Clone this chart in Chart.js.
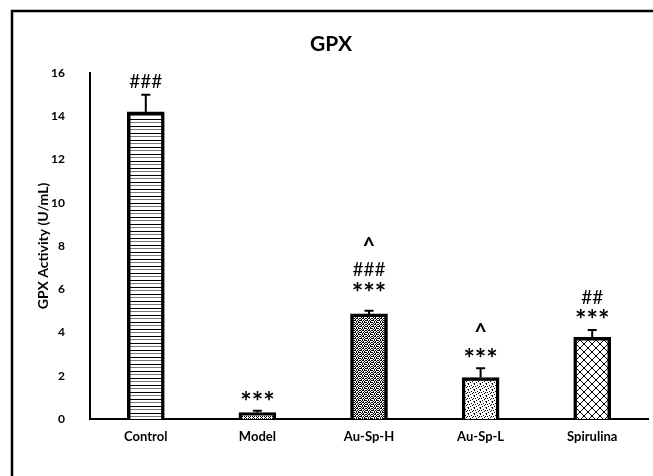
<!DOCTYPE html>
<html>
<head>
<meta charset="utf-8">
<script src="https://cdn.jsdelivr.net/npm/chart.js@4/dist/chart.umd.min.js"></script>
<style>
  html, body { margin: 0; padding: 0; background: #fff; }
  canvas { display: block; }
</style>
</head>
<body>
<canvas id="c" width="653" height="476"></canvas>
<script>
const categories = ['Control', 'Model', 'Au-Sp-H', 'Au-Sp-L', 'Spirulina']
const gpxValues = [14.2, 0.3, 4.86, 1.91, 3.78]
const gpxErrors = [0.8, 0.08, 0.15, 0.44, 0.34]
const yTicks = [0, 2, 4, 6, 8, 10, 12, 14, 16]
// significance marks: [category index, text, y value where the text sits]
const marks = [
  [0, '###', 15.61],
  [1, '***', 1.06],
  [2, '^', 8.09],
  [2, '###', 6.89],
  [2, '***', 6.1],
  [3, '^', 4.12],
  [3, '***', 3.05],
  [4, '##', 5.6],
  [4, '***', 4.86]
]

const FONT = 'Lato, "Noto Sans", sans-serif'

function pixelPattern(rows, color) {
  const h = rows.length, w = rows[0].length
  const c = document.createElement('canvas')
  c.width = w
  c.height = h
  const g = c.getContext('2d')
  g.fillStyle = '#fff'
  g.fillRect(0, 0, w, h)
  rows.forEach((r, y) => {
    for (let x = 0; x < w; x++) {
      const ch = r[x]
      if (ch === '.') continue
      g.fillStyle = ch === 'X' ? color : '#777'
      g.fillRect(x, y, 1, 1)
    }
  })
  return g.createPattern(c, 'repeat')
}

const patterns = [
  pixelPattern(['XXXX', '....', '....', 'oooo', '....', '....', '....'], '#000'),
  pixelPattern(['X.X.', '.X..', 'X.X.', '....'], '#000'),
  pixelPattern(['X.XX.X', '.X..X.', 'XX.X.X', '..X.X.', 'X.X.XX', '.X.X..'], '#000'),
  pixelPattern(['X.....', '...X..', '.X...X', '....X.', '..X...', 'X....o'], '#000'),
  pixelPattern([
    'X......X',
    '.X....X.',
    '..X..X..',
    '...XX...',
    '...XX...',
    '..X..X..',
    '.X....X.',
    'X......X'
  ], '#000')
]

const decor = {
  id: 'decor',
  afterDatasetsDraw(chart) {
    const ctx = chart.ctx
    const y = chart.scales.y
    const meta = chart.getDatasetMeta(0)
    ctx.save()
    ctx.strokeStyle = '#000'
    ctx.lineWidth = 2
    meta.data.forEach((bar, i) => {
      const yb = y.getPixelForValue(gpxValues[i])
      const yt = y.getPixelForValue(gpxValues[i] + gpxErrors[i])
      ctx.beginPath()
      ctx.moveTo(bar.x, yb)
      ctx.lineTo(bar.x, yt)
      ctx.moveTo(bar.x - 4.5, yt)
      ctx.lineTo(bar.x + 4.5, yt)
      ctx.stroke()
    })
    ctx.fillStyle = '#000'
    ctx.textAlign = 'center'
    ctx.textBaseline = 'middle'
    marks.forEach(([i, text, v]) => {
      const bar = meta.data[i]
      let dy = 0
      if (text === '***') { ctx.font = 'bold 27px ' + FONT; dy = 6 }
      else if (text === '^') { ctx.font = 'bold 22px ' + FONT; dy = 3 }
      else ctx.font = '19px ' + FONT
      ctx.fillText(text, bar.x, y.getPixelForValue(v) + dy)
    })
    ctx.restore()
  },
  afterDraw(chart) {
    const ctx = chart.ctx
    ctx.save()
    ctx.strokeStyle = '#000'
    ctx.lineWidth = 2.5
    ctx.strokeRect(12, 11, 700, 500)
    ctx.fillStyle = '#000'
    ctx.font = 'bold 21px ' + FONT
    ctx.textAlign = 'center'
    ctx.textBaseline = 'middle'
    ctx.fillText('GPX', 331, 44)
    ctx.restore()
  }
}

new Chart(document.getElementById('c'), {
  type: 'bar',
  data: {
    labels: categories,
    datasets: [{
      data: gpxValues,
      backgroundColor: patterns,
      borderColor: '#000',
      borderWidth: 3.5,
      borderSkipped: 'start',
      barThickness: 37
    }]
  },
  options: {
    responsive: false,
    animation: false,
    layout: { padding: { left: 35, top: 73, right: 5, bottom: 0 } },
    plugins: { legend: { display: false }, tooltip: { enabled: false }, title: { display: false } },
    scales: {
      x: {
        grid: { display: false, drawTicks: false },
        border: { display: true, color: '#000', width: 2 },
        ticks: { color: '#000', padding: 10, font: { family: FONT, size: 13, weight: 'bold' } },
        afterFit(s) { s.height = 57 }
      },
      y: {
        min: 0,
        max: 16,
        afterBuildTicks(s) { s.ticks = yTicks.map(v => ({ value: v })) },
        grid: { display: false, drawTicks: false },
        border: { display: true, color: '#000', width: 2 },
        ticks: { color: '#000', padding: 25, font: { family: FONT, size: 12, weight: 'bold' } },
        title: {
          display: true,
          text: 'GPX Activity (U/mL)',
          color: '#000',
          padding: { top: 0, bottom: 0 },
          font: { family: FONT, size: 14, weight: 'bold' }
        },
        afterFit(s) { s.width = 55 }
      }
    }
  },
  plugins: [decor]
})
</script>
</body>
</html>
